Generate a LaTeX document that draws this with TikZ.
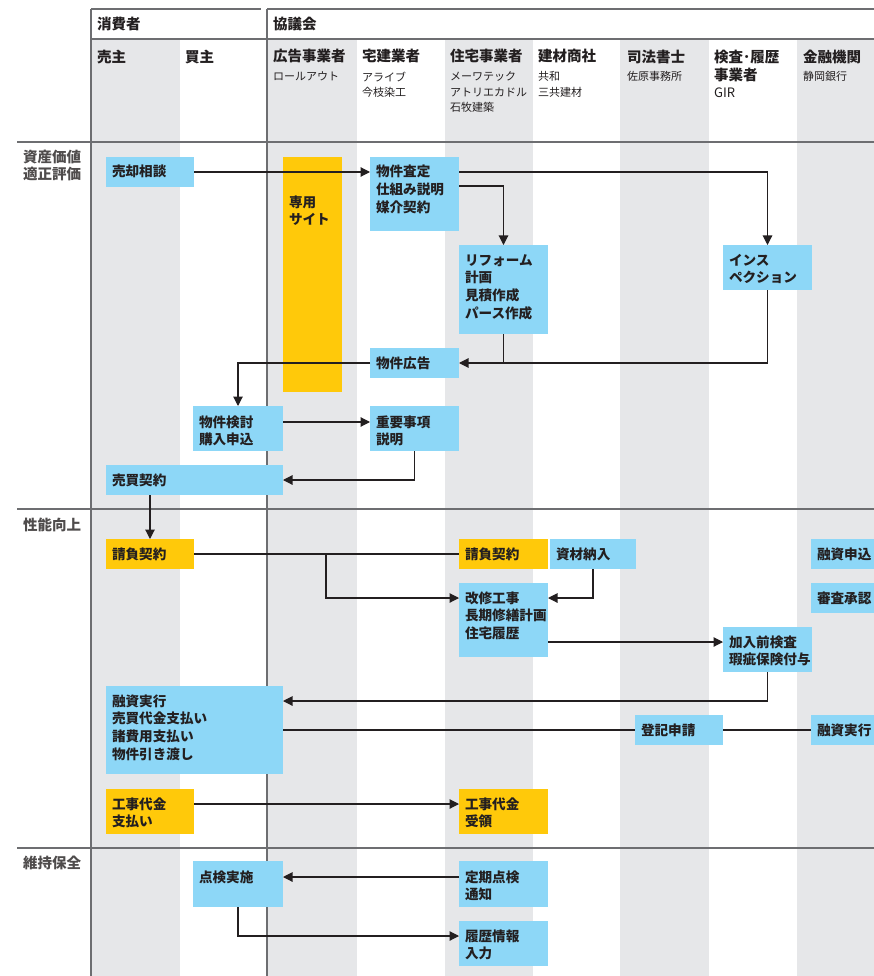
\documentclass[tikz,border=0pt]{standalone}
\usepackage{fontspec}
\setmainfont{Noto Sans CJK JP}
\usetikzlibrary{arrows.meta}

\definecolor{lane}{HTML}{E6E7E9}
\definecolor{sky}{HTML}{8DD7F7}
\definecolor{amber}{HTML}{FFC90A}
\definecolor{ink}{HTML}{231F20}
\definecolor{rulegray}{HTML}{6D6E71}

% box text: width, height, lines (optional first-line strut)
\newcommand{\cell}[4][20]{\parbox[c][#3pt][t]{#2pt}{\fontsize{13.6}{17.8}\selectfont\leftskip=6pt\relax\rule{0pt}{#1pt}#4}}

\begin{document}
\begin{tikzpicture}[x=1pt,y=-1pt,
    >={Triangle[length=9.5pt,width=9.5pt]},
    flow/.style={ink,line width=1.1pt},
    sep/.style={rulegray,line width=1.3pt},
    bluebox/.style={fill=sky,text=ink,inner sep=0pt,outer sep=0pt,anchor=north west,font=\bfseries},
    goldbox/.style={bluebox,fill=amber},
    head/.style={text=ink,inner sep=0pt,anchor=west,font=\fontsize{14.5}{18}\selectfont\bfseries},
    sub/.style={text=ink,inner sep=0pt,anchor=north west,align=left,font=\fontsize{11}{15.5}\selectfont},
    phase/.style={text=ink!80,inner sep=0pt,anchor=north west,align=left,font=\fontsize{14.5}{16.5}\selectfont\bfseries}]
    \clip (0,0) rectangle (874,976);
    \useasboundingbox (0,0) rectangle (874,976);
    \fill[white] (0,0) rectangle (874,976);
    % lanes
    \foreach \x/\w in {91/89,268/89,445/88,620/89,797/77}
    \fill[lane] (\x,39) rectangle ++(\w,937);
    % frame
    \draw[sep] (91,9) -- (261,9);
    \draw[sep] (267,9) -- (874,9);
    \draw[sep] (91,39) -- (874,39);
    \draw[sep] (91,9) -- (91,976);
    \draw[sep] (267,9) -- (267,976);
    \foreach \y in {142,509,848}
    \draw[sep] (17,\y) -- (874,\y);
    % headers
    \node[head] (consumer) at (97,24) {消費者};
    \node[head] (council) at (273,24) {協議会};
    \foreach \x/\t in {97/売主,185/買主,273/広告事業者,362/宅建業者,450/住宅事業者,538/建材商社,627/司法書士,803/金融機関}
    \node[head] (col\x) at (\x,56.5) {\t};
    \node[head,anchor=north west,align=left] (col714) at (714,49.5) {検査･履歴\\事業者};
    \node[sub] (firm273) at (273,71.5) {ロールアウト};
    \node[sub] (firm362) at (362,71.5) {アライブ\\今枝染工};
    \node[sub] (firm450) at (450,71.5) {メーワテック\\アトリエカドル\\石牧建築};
    \node[sub] (firm538) at (538,71.5) {共和\\三共建材};
    \node[sub] (firm627) at (627,71.5) {佐原事務所};
    \node[sub,font=\fontsize{13}{15}\selectfont] (firm714) at (714,88) {GIR};
    \node[sub] (firm803) at (803,71.5) {静岡銀行};
    % phases
    \node[phase] (phase1) at (23,150) {資産価値\\適正評価};
    \node[phase] (phase2) at (23,518) {性能向上};
    \node[phase] (phase3) at (23,856) {維持保全};
    % boxes
    \node[bluebox] (sell) at (106,157) {\cell{88}{30}{売却相談}};
    \node[goldbox] (site) at (283,157) {\cell[50]{59}{235}{専用\\サイト}};
    \node[bluebox] (appraise) at (370,157) {\cell{89}{74}{物件査定\\仕組み説明\\媒介契約}};
    \node[bluebox] (reform) at (459,245) {\cell{89}{89}{リフォーム\\計画\\見積作成\\パース作成}};
    \node[bluebox] (insp) at (723,245) {\cell{89}{45}{インス\\ペクション}};
    \node[bluebox] (ad) at (370,348) {\cell{89}{30}{物件広告}};
    \node[bluebox] (review) at (193,406) {\cell[21]{90}{45}{物件検討\\購入申込}};
    \node[bluebox] (explain) at (370,406) {\cell[21]{89}{45}{重要事項\\説明}};
    \node[bluebox] (sale) at (106,465) {\cell{177}{30}{売買契約}};
    \node[goldbox] (orderL) at (106,539) {\cell{88}{30}{請負契約}};
    \node[goldbox] (orderR) at (459,539) {\cell{89}{30}{請負契約}};
    \node[bluebox] (supply) at (550,539) {\cell{86}{30}{資材納入}};
    \node[bluebox] (loanapp) at (811,539) {\cell{89}{30}{融資申込}};
    \node[bluebox] (approve) at (811,583) {\cell{89}{30}{審査承認}};
    \node[bluebox] (renov) at (459,583) {\cell{89}{74}{改修工事\\長期修繕計画\\住宅履歴}};
    \node[bluebox] (preins) at (723,627) {\cell{89}{45}{加入前検査\\瑕疵保険付与}};
    \node[bluebox] (payment) at (106,686) {\cell{177}{88}{融資実行\\売買代金支払い\\諸費用支払い\\物件引き渡し}};
    \node[bluebox] (regist) at (635,715) {\cell{88}{30}{登記申請}};
    \node[bluebox] (loanexec) at (811,715) {\cell{89}{30}{融資実行}};
    \node[goldbox] (paywork) at (106,789) {\cell{88}{45}{工事代金\\支払い}};
    \node[goldbox] (receive) at (459,789) {\cell{89}{45}{工事代金\\受領}};
    \node[bluebox] (check) at (193,861) {\cell[21]{90}{46}{点検実施}};
    \node[bluebox] (notice) at (459,861) {\cell[21]{89}{46}{定期点検\\通知}};
    \node[bluebox] (record) at (459,921) {\cell{89}{45}{履歴情報\\入力}};
    % connector ends
    \coordinate (appraiseOut) at ([yshift=-29pt]appraise.north east);
    \coordinate (reviewOut) at ([yshift=-16pt]review.north east);
    \coordinate (fork) at ([xshift=132pt]orderL.east);
    \coordinate (renovInL) at ([yshift=-15pt]renov.north west);
    \coordinate (renovInR) at ([yshift=-15pt]renov.north east);
    \coordinate (renovOut) at ([yshift=-59pt]renov.north east);
    \coordinate (paymentIn) at ([yshift=-15pt]payment.north east);
    \coordinate (payworkOut) at ([yshift=-15pt]paywork.north east);
    \coordinate (checkIn) at ([yshift=-16pt]check.north east);
    \coordinate (recordIn) at ([yshift=-15pt]record.north west);
    % flows
    \draw[flow,->] (sell.east) -- (sell.east -| appraise.west);
    \draw[flow,->] (appraiseOut) -| (reform.north);
    \draw[flow,->] (sell.east -| appraise.east) -| (insp.north);
    \draw[flow,->] (insp.south) |- (ad.east);
    \draw[flow] (reform.south) -- (reform.south |- ad.east);
    \draw[flow,->] (ad.west) -| (review.north);
    \draw[flow,->] (reviewOut) -- (reviewOut -| explain.west);
    \draw[flow,->] (explain.south) |- (sale.east);
    \draw[flow,->] (orderL.north |- sale.south) -- (orderL.north);
    \draw[flow] (orderL.east) -- (orderR.west);
    \draw[flow,->] (fork) |- (renovInL);
    \draw[flow,->] (supply.south) |- (renovInR);
    \draw[flow,->] (renovOut) -- (renovOut -| preins.west);
    \draw[flow,->] (preins.south) |- (paymentIn);
    \draw[flow] (payment.east |- regist.west) -- (regist.west);
    \draw[flow] (regist.east) -- (loanexec.west);
    \draw[flow,->] (payworkOut) -- (payworkOut -| receive.west);
    \draw[flow,<-] (checkIn) -- (checkIn -| notice.west);
    \draw[flow,->] (check.south) |- (recordIn);
\end{tikzpicture}
\end{document}
